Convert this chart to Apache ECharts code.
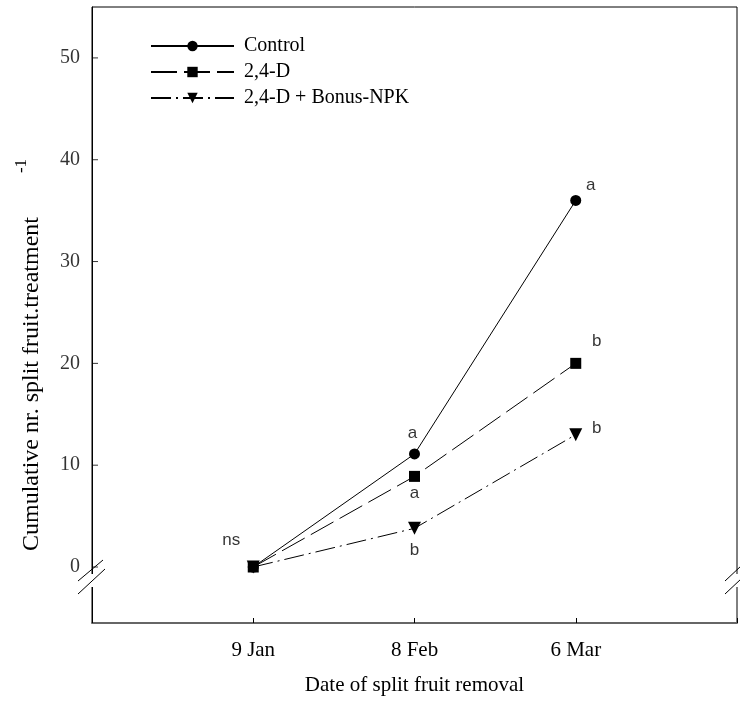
<!DOCTYPE html>
<html><head><meta charset="utf-8">
<script src="https://cdn.jsdelivr.net/npm/echarts@6/dist/echarts.min.js"></script>
<style>html,body{margin:0;padding:0;background:#fff}#c{width:740px;height:702px}</style>
</head><body><div id="c"></div>
<script>
var categories = ['9 Jan', '8 Feb', '6 Mar'];
var seriesNames = ['Control', '2,4-D', '2,4-D + Bonus-NPK'];
var controlValues = [0, 11.1, 36];
var dValues = [0, 8.9, 20];
var bonusValues = [0, 3.8, 13];
var yTicks = [0, 10, 20, 30, 40, 50];
var controlLetters = ['ns', 'a', 'a'];
var dLetters = ['', 'a', 'b'];
var bonusLetters = ['', 'b', 'b'];

var chart = echarts.init(document.getElementById('c'));
var serif = 'Liberation Serif';
function pts(v){ return v.map(function(y,i){ return [i,y]; }); }

var letterData = [
  [0, controlValues[0], controlLetters[0], -22, -27], [1, controlValues[1], controlLetters[1], -2, -21], [2, controlValues[2], controlLetters[2], 15, -15],
  [1, dValues[1], dLetters[1], 0, 17], [2, dValues[2], dLetters[2], 21, -22],
  [1, bonusValues[1], bonusLetters[1], 0, 22], [2, bonusValues[2], bonusLetters[2], 21, -6]
];

var option = {
  animation: false,
  grid: {left: 92, top: 7, right: 2, bottom: 79, show: true, borderColor: '#000', borderWidth: 1, containLabel: false},
  legend: {
    orient: 'vertical', left: 145, top: 31, itemWidth: 83, itemHeight: 13, itemGap: 6,
    textStyle: {fontFamily: serif, fontSize: 20, color: '#000', padding: [0,0,0,5]},
    data: seriesNames
  },
  xAxis: {
    type: 'value', min: -1, max: 3, interval: 1,
    axisLine: {show: true, onZero: false, lineStyle: {color: '#666', width: 2}},
    axisTick: {show: true, inside: true, length: 5, lineStyle: {color: '#000'}},
    splitLine: {show: false},
    axisLabel: {fontFamily: serif, fontSize: 21, color: '#000', margin: 17,
      formatter: function(v){ return categories[v] || ''; }},
    name: 'Date of split fruit removal', nameLocation: 'middle', nameGap: 52,
    nameTextStyle: {fontFamily: serif, fontSize: 21, color: '#000'}
  },
  yAxis: {
    type: 'value', min: -5.5, max: 55,
    axisLine: {show: true, onZero: false, lineStyle: {color: '#000', width: 1}},
    axisTick: {show: false},
    splitLine: {show: false},
    axisLabel: {show: false}
  },
  series: [
    {name: seriesNames[0], type: 'line', data: pts(controlValues), symbol: 'circle', symbolSize: 11,
     lineStyle: {color: '#000', width: 1}, itemStyle: {color: '#000'}, z: 3},
    {name: seriesNames[1], type: 'line', data: pts(dValues), symbol: 'rect', symbolSize: 11,
     lineStyle: {color: '#000', width: 1, type: [26, 7]}, itemStyle: {color: '#000'}, z: 4},
    {name: seriesNames[2], type: 'line', data: pts(bonusValues), symbol: 'triangle', symbolRotate: 180, symbolSize: 13,
     lineStyle: {color: '#000', width: 1, type: [20, 5, 2, 5]}, itemStyle: {color: '#000'}, z: 2},
    {type: 'scatter', silent: true, symbolSize: 0, z: 5,
     data: yTicks.map(function(t){ return [-1, t]; }),
     label: {show: true, position: 'left', distance: 12, fontFamily: serif, fontSize: 20, color: '#000',
       formatter: function(p){ return String(p.value[1]); }}},
    {type: 'scatter', silent: true, symbol: 'rect', symbolSize: [6, 1], symbolOffset: [3, 0], itemStyle: {color: '#000'},
     data: yTicks.map(function(t){ return [-1, t]; }), z: 5},
    {type: 'scatter', silent: true, symbolSize: 0, z: 5,
     data: letterData,
     label: {show: true, position: 'inside', fontFamily: 'Liberation Sans', fontSize: 17, color: '#000',
       formatter: function(p){ return p.value[2]; }},
     labelLayout: function(p){ var d = letterData[p.dataIndex]; return {dx: d[3], dy: d[4]}; }
    }
  ]
};
chart.setOption(option);

var y0 = chart.convertToPixel({xAxisIndex: 0, yAxisIndex: 0}, [-1, 0]);
var yb = y0[1] + 13;
var g = [
  {type: 'rect', shape: {x: 89, y: yb - 6, width: 6, height: 13}, style: {fill: '#fff'}, z: 100},
  {type: 'rect', shape: {x: 734, y: yb - 6, width: 6, height: 13}, style: {fill: '#fff'}, z: 100},
  {type: 'line', shape: {x1: 78, y1: yb + 1, x2: 103, y2: yb - 20}, style: {stroke: '#000', lineWidth: 1}, z: 101},
  {type: 'line', shape: {x1: 78, y1: yb + 14, x2: 105, y2: yb - 11}, style: {stroke: '#000', lineWidth: 1}, z: 101},
  {type: 'line', shape: {x1: 725, y1: yb + 1, x2: 741, y2: yb - 14}, style: {stroke: '#000', lineWidth: 1}, z: 101},
  {type: 'line', shape: {x1: 725, y1: yb + 14, x2: 741, y2: yb - 1}, style: {stroke: '#000', lineWidth: 1}, z: 101},
  {type: 'text', x: 32, y: 384, rotation: Math.PI / 2,
   style: {text: 'Cumulative nr. split fruit.treatment', fontFamily: serif, fontSize: 24, fill: '#000', align: 'center', verticalAlign: 'middle'}, z: 101},
  {type: 'text', x: 22, y: 166, rotation: Math.PI / 2,
   style: {text: '-1', fontFamily: serif, fontSize: 17, fill: '#000', align: 'center', verticalAlign: 'middle'}, z: 101}
];
chart.setOption({graphic: g});
</script></body></html>
